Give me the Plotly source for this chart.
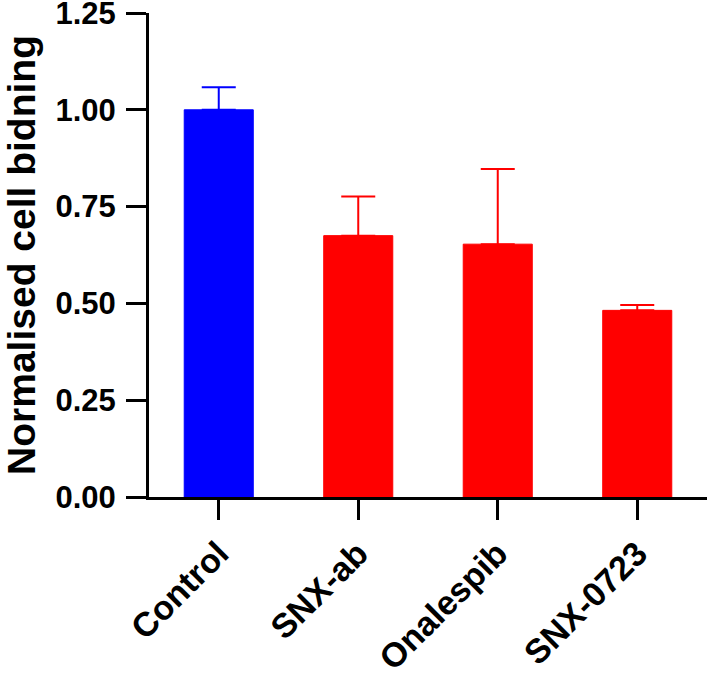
import plotly.graph_objects as go

categories = ["Control", "SNX-ab", "Onalespib", "SNX-0723"]
means = [1.00, 0.675, 0.653, 0.482]
errors_up = [0.058, 0.101, 0.194, 0.014]
colors = ["#0000FF", "#FF0000", "#FF0000", "#FF0000"]
y_ticks = [0.00, 0.25, 0.50, 0.75, 1.00, 1.25]
y_ticklabels = ["0.00", "0.25", "0.50", "0.75", "1.00", "1.25"]
y_title = "Normalised cell bidning"

FONT = "Liberation Sans, Arial, sans-serif"

fig = go.Figure()
# Group traces by colour so each error bar shares its bar's colour
for col in ["#0000FF", "#FF0000"]:
    idx = [i for i, c in enumerate(colors) if c == col]
    fig.add_trace(go.Bar(
        x=[categories[i] for i in idx],
        y=[means[i] for i in idx],
        marker=dict(color=col, line=dict(color=col, width=1)),
        error_y=dict(type="data", symmetric=False,
                     array=[errors_up[i] for i in idx],
                     arrayminus=[0 for _ in idx],
                     color=col, thickness=2, width=17),
        showlegend=False,
    ))

fig.update_layout(
    width=708, height=674,
    margin=dict(l=149, r=1, t=13, b=177),
    paper_bgcolor="white", plot_bgcolor="white",
    barmode="overlay", bargap=0.505,
    font=dict(family=FONT, color="black"),
)
fig.update_xaxes(
    categoryorder="array", categoryarray=categories,
    range=[-0.5, 3.5], automargin=False,
    showline=True, linecolor="black", linewidth=3,
    ticks="outside", ticklen=20, tickwidth=3, tickcolor="black",
    tickangle=-45,
    tickfont=dict(family=FONT, size=34, weight="bold", color="black"),
    showgrid=False, zeroline=False,
)
fig.update_yaxes(
    range=[0, 1.25], automargin=False,
    tickvals=y_ticks, ticktext=y_ticklabels,
    ticklabeloverflow="allow",
    showline=True, linecolor="black", linewidth=3,
    ticks="outside", ticklen=20, tickwidth=3, tickcolor="black",
    ticklabelstandoff=4,
    tickfont=dict(family=FONT, size=31, weight="bold", color="black"),
    title=dict(text=y_title, font=dict(family=FONT, size=39, weight="bold", color="black"), standoff=17),
    showgrid=False, zeroline=False,
)

fig.write_html(
    "out.html",
    config={"displayModeBar": False},
    post_script="document.body.style.margin='0';document.body.style.overflow='hidden';",
)
